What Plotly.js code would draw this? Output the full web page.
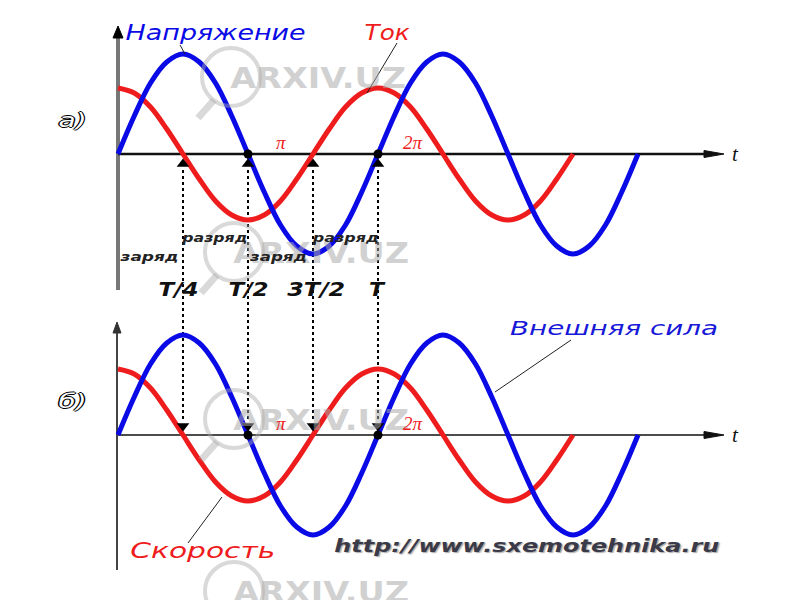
<!DOCTYPE html>
<html><head><meta charset="utf-8">
<script src="https://cdn.plot.ly/plotly-3.0.1.min.js"></script>
<style>html,body{margin:0;padding:0;background:#fff}#chart{width:800px;height:600px}</style>
</head><body><div id="chart"></div>
<script>
// time in units of pi
const tBlue = [0,0.125,0.25,0.375,0.5,0.625,0.75,0.875,1,1.125,1.25,1.375,1.5,1.625,1.75,1.875,2,2.125,2.25,2.375,2.5,2.625,2.75,2.875,3,3.125,3.25,3.375,3.5,3.625,3.75,3.875,4];
const blueVals = [0,0.38,0.71,0.92,1,0.92,0.71,0.38,0,-0.38,-0.71,-0.92,-1,-0.92,-0.71,-0.38,0,0.38,0.71,0.92,1,0.92,0.71,0.38,0,-0.38,-0.71,-0.92,-1,-0.92,-0.71,-0.38,0];
const tRed = [0,0.125,0.25,0.375,0.5,0.625,0.75,0.875,1,1.125,1.25,1.375,1.5,1.625,1.75,1.875,2,2.125,2.25,2.375,2.5,2.625,2.75,2.875,3,3.125,3.25,3.375,3.5];
const redVals = [0.66,0.61,0.47,0.25,0,-0.25,-0.47,-0.61,-0.66,-0.61,-0.47,-0.25,0,0.25,0.47,0.61,0.66,0.61,0.47,0.25,0,-0.25,-0.47,-0.61,-0.66,-0.61,-0.47,-0.25,0];
const markT = [0.5,1,1.5,2];
const markLabels = ['T/4','T/2','3T/2','T'];
const dotT = [1,2];
const piT = [1,2];
const piLabels = ['π','2π'];

const BLUE = '#0a0ae6', RED = '#ee1c1c';
const X0 = 118, PX = 130; // pixel of t=0, pixels per pi
const px2x = p => p/800;
const py2y = p => 1 - p/600;
const SANS = 'DejaVu Sans, Verdana, sans-serif';

const traces = [];
function panel(ya, upTri){
  traces.push({x:tRed,y:redVals,yaxis:ya,mode:'lines',line:{color:RED,width:5,shape:'spline',smoothing:1},hoverinfo:'skip'});
  traces.push({x:tBlue,y:blueVals,yaxis:ya,mode:'lines',line:{color:BLUE,width:5,shape:'spline',smoothing:1},hoverinfo:'skip'});
  traces.push({x:markT,y:markT.map(()=>upTri?-0.1:0.09),yaxis:ya,mode:'markers',
    marker:{symbol:upTri?'triangle-up':'triangle-down',size:11,color:'#000'},hoverinfo:'skip'});
  traces.push({x:dotT,y:dotT.map(()=>0),yaxis:ya,mode:'markers',marker:{symbol:'circle',size:9,color:'#000'},hoverinfo:'skip'});
}
panel('y',true);
panel('y2',false);

const shapes = [];
const ann = [];
const stretch = []; // [annotation index, target width px]
// horizontal axes
['y','y2'].forEach(ya=>{
  shapes.push({type:'line',xref:'x',yref:ya,x0:0,x1:(712-X0)/PX,y0:0,y1:0,line:{color:'#111',width:ya==='y'?2.5:1.5},layer:'below'});
  shapes.push({type:'path',xref:'x',yref:ya,path:`M ${(704-X0)/PX} 0.035 L ${(724-X0)/PX} 0 L ${(704-X0)/PX} -0.035 Z`,fillcolor:'#111',line:{color:'#111',width:1}});
});
// vertical axes
shapes.push({type:'line',xref:'paper',yref:'paper',x0:px2x(118),x1:px2x(118),y0:py2y(34),y1:py2y(290),line:{color:'#777',width:4},layer:'below'});
shapes.push({type:'path',xref:'paper',yref:'paper',path:`M ${px2x(113)} ${py2y(38)} L ${px2x(118)} ${py2y(26)} L ${px2x(123)} ${py2y(38)} Z`,fillcolor:'#000',line:{color:'#000',width:1}});
shapes.push({type:'line',xref:'paper',yref:'paper',x0:px2x(117),x1:px2x(117),y0:py2y(330),y1:py2y(570),line:{color:'#444',width:2},layer:'below'});
shapes.push({type:'path',xref:'paper',yref:'paper',path:`M ${px2x(113)} ${py2y(333)} L ${px2x(117)} ${py2y(322)} L ${px2x(121)} ${py2y(333)} Z`,fillcolor:'#333',line:{color:'#333',width:1}});
// dotted connectors
markT.forEach(t=>{
  shapes.push({type:'line',xref:'x',yref:'paper',x0:t,x1:t,y0:py2y(170),y1:py2y(422),line:{color:'#000',width:2,dash:'dot'},layer:'below'});
});
// leader lines
function leader(a,b,c,d){shapes.push({type:'line',xref:'paper',yref:'paper',x0:px2x(a),y0:py2y(b),x1:px2x(c),y1:py2y(d),line:{color:'#222',width:1}});}
leader(180,45,185,54);
leader(397,43,367,93);
leader(571,340,495,392);
leader(188,543,222,497);

function txtC(s,cx,cy,w,size,color,extra){
  ann.push(Object.assign({xref:'paper',yref:'paper',x:px2x(cx),y:py2y(cy),xanchor:'center',yanchor:'middle',showarrow:false,
    text:s,font:{family:SANS,size:size,color:color,style:'italic'}},extra||{}));
  if(w) stretch.push([ann.length-1,w]);
}

// watermarks
[[230,78],[233,253],[233,420],[233,592]].forEach(([x,y])=>{
  txtC('<b>ARXIV.UZ</b>',x+88,y,176,29,'rgba(170,170,170,0.55)',{font:{family:SANS,size:29,color:'rgba(170,170,170,0.55)'}});
  shapes.push({type:'circle',xref:'paper',yref:'paper',x0:px2x(x-28),x1:px2x(x+30),y0:py2y(y-30),y1:py2y(y+28),line:{color:'rgba(170,170,170,0.45)',width:4},layer:'above'});
  shapes.push({type:'line',xref:'paper',yref:'paper',x0:px2x(x-16),y0:py2y(y+22),x1:px2x(x-32),y1:py2y(y+40),line:{color:'rgba(170,170,170,0.45)',width:7}});
});

txtC('Напряжение',215,32,180,22,BLUE);
txtC('Ток',387,32,45,22,RED);
const outline = '-1px 0 #000, 1px 0 #000, 0 1px #000, 0 -1px #000';
txtC('а)',72,120,28,19,'#fff',{font:{family:SANS,size:19,color:'#fff',style:'italic',shadow:outline}});
txtC('б)',72,401,28,19,'#fff',{font:{family:SANS,size:19,color:'#fff',style:'italic',shadow:outline}});
txtC('Внешняя сила',614,328,208,20,'#1818d8');
txtC('Скорость',202,550,145,22,RED);
txtC('<b>http://www.sxemotehnika.ru</b>',527,546,385,17,'#3a3a48',{font:{family:SANS,size:17,color:'#3a3a48',style:'italic',shadow:'1px 1px 1px #aaa'}});
// t labels
['y','y2'].forEach(ya=>{
  ann.push({xref:'x',yref:ya,x:(735-X0)/PX,y:0,xanchor:'center',yanchor:'middle',showarrow:false,
    text:'t',font:{family:'Liberation Serif, Times New Roman',size:21,color:'#111',style:'italic'}});
});
// pi labels
piT.forEach((t,i)=>{
  ['y','y2'].forEach(ya=>{
    ann.push({xref:'x',yref:ya,x:t+(i===0?0.25:0.27),y:0,yshift:12,xanchor:'center',yanchor:'middle',showarrow:false,
      text:piLabels[i],font:{family:'Liberation Serif, Times New Roman',size:19,color:RED,style:'italic'}});
  });
});
// period labels
const markShift = [-5,0,3,-1];
const markW = [40,40,58,15];
markT.forEach((t,i)=>{
  ann.push({xref:'x',yref:'paper',x:t,xshift:markShift[i],y:py2y(289),xanchor:'center',yanchor:'middle',showarrow:false,
    text:'<b>'+markLabels[i]+'</b>',font:{family:SANS,size:19,color:'#111',style:'italic'}});
  stretch.push([ann.length-1,markW[i]]);
});
// charge labels
txtC('<b>заряд</b>',149,257,58,12,'#222');
txtC('<b>разряд</b>',214,238,65,12,'#222');
txtC('<b>заряд</b>',278,257,57,12,'#222');
txtC('<b>разряд</b>',345,238,66,12,'#222');

const layout = {
  width:800,height:600,margin:{l:0,r:0,t:0,b:0},
  paper_bgcolor:'#fff',plot_bgcolor:'#fff',showlegend:false,
  xaxis:{range:[-X0/PX,(800-X0)/PX],showgrid:false,zeroline:false,showticklabels:false,showline:false,ticks:''},
  yaxis:{domain:[0.5,1],range:[-1.46,1.54],showgrid:false,zeroline:false,showticklabels:false,ticks:''},
  yaxis2:{domain:[0,0.5],range:[-1.65,1.35],showgrid:false,zeroline:false,showticklabels:false,ticks:''},
  shapes:shapes,annotations:ann
};
Plotly.newPlot('chart',traces,layout,{staticPlot:true}).then(gd=>{
  const groups = gd.querySelectorAll('g.annotation');
  const byIdx = {};
  groups.forEach(g=>{ byIdx[g.getAttribute('data-index')] = g; });
  stretch.forEach(([i,w])=>{
    const g = byIdx[String(i)];
    if(!g) return;
    const t = g.querySelector('text.annotation-text');
    if(t){ t.setAttribute('textLength', w); t.setAttribute('lengthAdjust','spacingAndGlyphs'); }
  });
});
</script></body></html>
